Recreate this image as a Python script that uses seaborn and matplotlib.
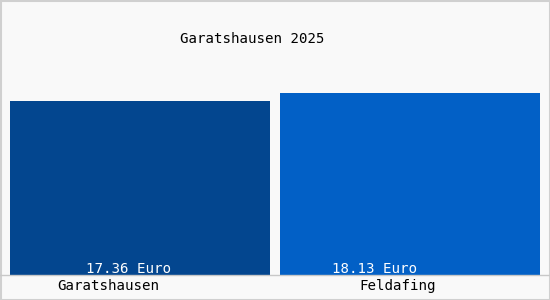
import matplotlib
matplotlib.use("Agg")
import matplotlib.pyplot as plt
import seaborn as sns
import pandas as pd
from matplotlib.patches import Rectangle

categories = ["Garatshausen", "Feldafing"]
values = [17.36, 18.13]
value_labels = ["17.36 Euro", "18.13 Euro"]
title = "Garatshausen 2025"
colors = ["#03468f", "#0260c6"]

sns.set_theme(style="white")
plt.rcParams['font.family'] = ['DejaVu Sans Mono', 'DejaVu Sans']

W, H = 550, 300
fig = plt.figure(figsize=(W / 100, H / 100), dpi=100)
bg = "#f9f9f9"
fig.patch.set_facecolor(bg)

ax = fig.add_axes([5.5 / W, 25 / H, 539 / W, 275 / H])
ax.set_facecolor(bg)
df = pd.DataFrame({"cat": categories, "val": values})
sns.barplot(data=df, x="cat", y="val", hue="cat", palette=colors,
            width=0.966, legend=False, ax=ax, saturation=1,
            linewidth=0, edgecolor="none")
ax.set_xlim(-0.5, 1.5)
ax.set_ylim(0, 27.42)
for s in ax.spines.values():
    s.set_visible(False)
ax.set_xticks([])
ax.set_yticks([])
ax.set_xlabel("")
ax.set_ylabel("")

# value labels inside bars
val_x_px = [128, 375]
for px, lab in zip(val_x_px, value_labels):
    fig.text(px / W, (H - 273) / H, lab, ha="center", va="baseline",
             color="white", fontsize=10.2)

# category labels
cat_x_px = [108, 398]
for px, lab in zip(cat_x_px, categories):
    fig.text(px / W, (H - 290) / H, lab, ha="center", va="baseline",
             color="black", fontsize=10.2)

fig.text(252 / W, (H - 43) / H, title, ha="center", va="baseline",
         color="black", fontsize=10.2)

# baseline line
fig.add_artist(plt.Line2D([0, 1], [(H - 275) / H] * 2, color="#c8c8c8", lw=1,
                          transform=fig.transFigure))
# border
fig.add_artist(Rectangle((0.5 / W, 0.5 / H), (W - 1) / W, (H - 1) / H,
                         transform=fig.transFigure, fill=False,
                         edgecolor="#d0d0d0", lw=1.5))

fig.savefig("out.png", dpi=100, facecolor=bg)
